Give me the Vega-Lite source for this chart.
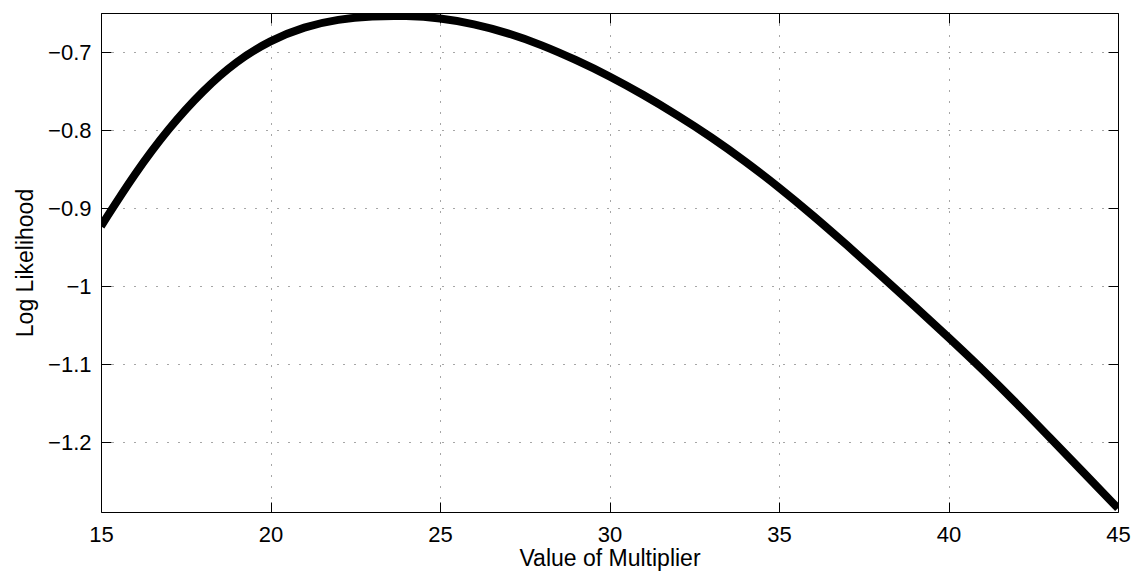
{
  "$schema": "https://vega.github.io/schema/vega-lite/v6.json",
  "autosize": {"type": "none"},
  "padding": {"left": 101, "top": 13, "right": 15, "bottom": 62},
  "width": 1017,
  "height": 499,
  "background": "white",
  "view": {"stroke": null},
  "config": {
    "axis": {
      "labelFont": "Liberation Sans",
      "labelFontSize": 22,
      "labelColor": "#000",
      "labelFlush": false,
      "labelOverlap": false,
      "titleFont": "Liberation Sans",
      "titleFontSize": 23,
      "titleFontWeight": "normal",
      "titleColor": "#000",
      "domainColor": "#000",
      "domainWidth": 1,
      "tickColor": "#000",
      "tickWidth": 1,
      "tickSize": -10,
      "gridColor": "#000",
      "gridDash": [1, 10],
      "gridWidth": 1,
      "gridOpacity": 0.7
    }
  },
  "data": {
    "values": [
      {"m": 15, "ll": -0.923},
      {"m": 16, "ll": -0.855},
      {"m": 17, "ll": -0.797},
      {"m": 18, "ll": -0.749},
      {"m": 19, "ll": -0.711},
      {"m": 20, "ll": -0.6845},
      {"m": 21, "ll": -0.667},
      {"m": 22, "ll": -0.6575},
      {"m": 23, "ll": -0.6535},
      {"m": 24, "ll": -0.653},
      {"m": 25, "ll": -0.656},
      {"m": 26, "ll": -0.6635},
      {"m": 27, "ll": -0.675},
      {"m": 28, "ll": -0.6905},
      {"m": 29, "ll": -0.7095},
      {"m": 30, "ll": -0.7305},
      {"m": 31, "ll": -0.7545},
      {"m": 32, "ll": -0.7805},
      {"m": 33, "ll": -0.8085},
      {"m": 34, "ll": -0.8395},
      {"m": 35, "ll": -0.873},
      {"m": 36, "ll": -0.909},
      {"m": 37, "ll": -0.947},
      {"m": 38, "ll": -0.986},
      {"m": 39, "ll": -1.0255},
      {"m": 40, "ll": -1.0655},
      {"m": 41, "ll": -1.1065},
      {"m": 42, "ll": -1.1495},
      {"m": 43, "ll": -1.1945},
      {"m": 44, "ll": -1.2395},
      {"m": 45, "ll": -1.2845}
    ]
  },
  "resolve": {"axis": {"x": "independent", "y": "independent"}},
  "layer": [
    {
      "mark": {"type": "line", "opacity": 0},
      "encoding": {
        "x": {
          "field": "m", "type": "quantitative",
          "scale": {"domain": [15, 45], "nice": false, "zero": false},
          "axis": {"orient": "top", "labels": false, "title": null, "grid": false, "values": [15, 20, 25, 30, 35, 40, 45]}
        },
        "y": {
          "field": "ll", "type": "quantitative",
          "scale": {"domain": [-1.2893, -0.6496], "nice": false, "zero": false},
          "axis": {"orient": "right", "labels": false, "title": null, "grid": false, "values": [-1.2, -1.1, -1, -0.9, -0.8, -0.7]}
        }
      }
    },
    {
      "mark": {"type": "line", "color": "#000", "strokeWidth": 8, "interpolate": "basis", "clip": true},
      "encoding": {
        "x": {
          "field": "m", "type": "quantitative",
          "scale": {"domain": [15, 45], "nice": false, "zero": false},
          "axis": {"orient": "bottom", "title": "Value of Multiplier", "format": "d", "labelPadding": 22, "titlePadding": 2, "grid": true, "values": [15, 20, 25, 30, 35, 40, 45]}
        },
        "y": {
          "field": "ll", "type": "quantitative",
          "scale": {"domain": [-1.2893, -0.6496], "nice": false, "zero": false},
          "axis": {"orient": "left", "title": "Log Likelihood", "format": "~g", "labelPadding": 20, "titlePadding": 10, "grid": true, "values": [-1.2, -1.1, -1, -0.9, -0.8, -0.7]}
        }
      }
    }
  ]
}
